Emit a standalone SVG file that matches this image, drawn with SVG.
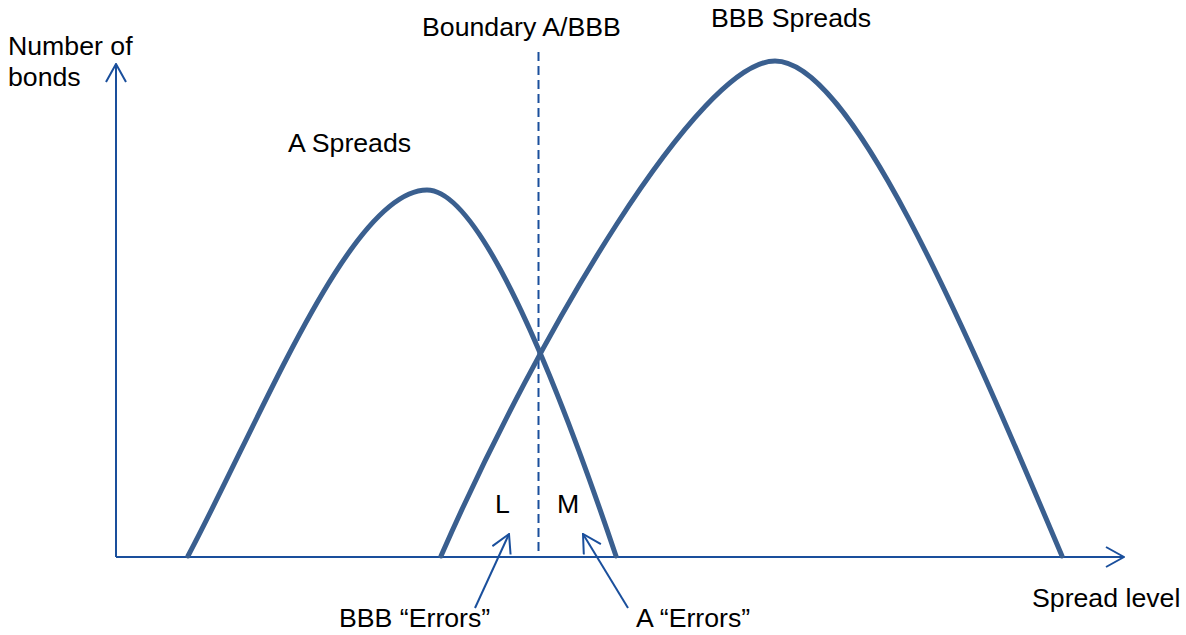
<svg xmlns="http://www.w3.org/2000/svg" width="1186" height="635" viewBox="0 0 1186 635">
<style>
text{font-family:"Liberation Sans",Arial,sans-serif;font-size:26.7px;fill:#000}
.curve{fill:none;stroke:#3A5F8F;stroke-width:5;stroke-linecap:round}
.axis{fill:none;stroke:#1A4F9C;stroke-width:2}
.lbl{fill:none;stroke:#1A4F9C;stroke-width:2}
</style>
<defs>
<marker id="open" markerUnits="userSpaceOnUse" viewBox="0 0 20 22" refX="19" refY="11" markerWidth="20" markerHeight="22" orient="auto">
<path d="M1,1 L19,11 L1,21" fill="none" stroke="#1A4F9C" stroke-width="2"/>
</marker>
</defs>
<g id="axes">
<line class="axis" x1="116" y1="557" x2="116" y2="64" marker-end="url(#open)"/>
<line class="axis" x1="116" y1="557" x2="1124" y2="557" marker-end="url(#open)"/>
</g>
<g id="boundary">
<line x1="538.5" y1="52" x2="538.5" y2="556" stroke="#1A4F9C" stroke-width="2" stroke-dasharray="9,5"/>
<text x="422" y="36">Boundary A/BBB</text>
</g>
<g id="a-spreads">
<path class="curve" d="M188,556 C265,410 352,190 427,190 C482,190 560,390 616,556"/>
<text x="288" y="152">A Spreads</text>
</g>
<g id="bbb-spreads">
<path class="curve" d="M441,556 C540,330 700,61 775,61 C850,61 960,315 1062,556"/>
<text x="711" y="27">BBB Spreads</text>
</g>
<g id="y-label"><text x="8" y="55">Number of</text><text x="8" y="86">bonds</text></g>
<g id="x-label"><text x="1032" y="607">Spread level</text></g>
<g id="L"><text x="495" y="513">L</text></g>
<g id="M"><text x="557" y="513">M</text></g>
<g id="bbb-errors"><text x="339" y="627">BBB “Errors”</text></g>
<g id="a-errors"><text x="636" y="627">A “Errors”</text></g>
<g id="connectors">
<line class="lbl" x1="475" y1="608" x2="509" y2="534" marker-end="url(#open)"/>
<line class="lbl" x1="628" y1="608" x2="583" y2="534" marker-end="url(#open)"/>
</g>
</svg>
